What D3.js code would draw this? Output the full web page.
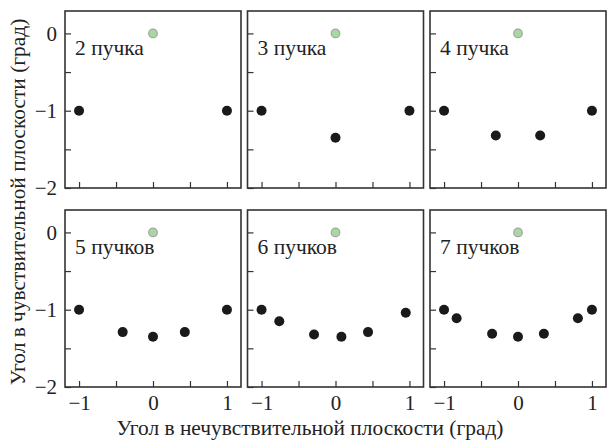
<!DOCTYPE html>
<html>
<head>
<meta charset="utf-8">
<script src="https://cdn.jsdelivr.net/npm/d3@7"></script>
<style>
  body { margin: 0; background: #fff; }
  svg { display: block; font-family: "Liberation Serif", "Times New Roman", serif; }
</style>
</head>
<body>
<svg id="chart" width="608" height="441"></svg>
<script>
// panel titles
const panelLabels = ["2 пучка", "3 пучка", "4 пучка", "5 пучков", "6 пучков", "7 пучков"];

// beam positions (insensitive / sensitive plane, deg)
const beamX = [
  [-1, 1],
  [-1, 0, 1],
  [-1, -0.3, 0.3, 1],
  [-1, -0.41, 0, 0.43, 1],
  [-1, -0.76, -0.29, 0.08, 0.44, 0.95],
  [-1, -0.83, -0.35, 0, 0.35, 0.81, 1]
];
const beamY = [
  [-1, -1],
  [-1, -1.35, -1],
  [-1, -1.32, -1.32, -1],
  [-1, -1.29, -1.35, -1.29, -1],
  [-1, -1.15, -1.32, -1.35, -1.29, -1.04],
  [-1, -1.11, -1.31, -1.35, -1.31, -1.11, -1]
];
// target point (green)
const refX = 0, refY = 0;

const xTicks = [-1, -0.5, 0, 0.5, 1];
const yTicks = [-2, -1.5, -1, -0.5, 0];

const xTitle = "Угол в нечувствительной плоскости (град)";
const yTitle = "Угол в чувствительной плоскости (град)";

var svg = d3.select("#chart");

var pw = 176, ph = 177,
  left0 = 65, top0 = 11,
  gapX = 6.5, gapY = 22;

var x = d3.scaleLinear().domain([-1.19, 1.19]).range([0, pw]);
var y = d3.scaleLinear().domain([-2, 0.29]).range([ph, 0]);

var fmt = function(d) {
  return Number.isInteger(d) ? d3.format("d")(d) : "";
};

panelLabels.forEach(function(label, i) {
  var col = i % 3, row = Math.floor(i / 3);
  var px = left0 + col * (pw + gapX),
    py = top0 + row * (ph + gapY);

  var g = svg.append("g").attr("transform", "translate(" + px + "," + py + ")");

  var yAxis = d3.axisLeft(y).tickValues(yTicks).tickSizeInner(-6).tickSizeOuter(0)
    .tickPadding(8).tickFormat(col == 0 ? fmt : "");
  var xAxis = d3.axisBottom(x).tickValues(xTicks).tickSizeInner(-6).tickSizeOuter(0)
    .tickPadding(8).tickFormat(row == 1 ? fmt : "");

  var ya = g.append("g").call(yAxis);
  var xa = g.append("g").attr("transform", "translate(0," + ph + ")").call(xAxis);

  [ya, xa].forEach(function(a) {
    a.select(".domain").remove();
    a.selectAll("line").attr("stroke", "#333").attr("stroke-width", 1.2);
    a.selectAll("text")
      .attr("fill", "#222")
      .style("font-family", '"Liberation Serif", "Times New Roman", serif')
      .style("font-size", "21px");
  });

  g.append("rect")
    .attr("width", pw)
    .attr("height", ph)
    .attr("fill", "none")
    .attr("stroke", "#333")
    .attr("stroke-width", 1.6);

  g.append("text")
    .attr("x", 10)
    .attr("y", y(0) + 21.5)
    .attr("fill", "#222")
    .style("font-size", "21.5px")
    .text(label);

  g.append("circle")
    .attr("cx", x(refX))
    .attr("cy", y(refY))
    .attr("r", 4.3)
    .attr("fill", "#a6d8a0")
    .attr("stroke", "#a5a5a5")
    .attr("stroke-width", 1.2);

  g.selectAll(".beam")
    .data(beamX[i].map(function(v, j) { return [v, beamY[i][j]]; }))
    .enter()
    .append("circle")
    .attr("class", "beam")
    .attr("cx", function(d) { return x(d[0]); })
    .attr("cy", function(d) { return y(d[1]); })
    .attr("r", 5)
    .attr("fill", "#1a1a1a");
});

svg.append("text")
  .attr("x", 310)
  .attr("y", 435)
  .attr("text-anchor", "middle")
  .attr("fill", "#222")
  .style("font-size", "21.4px")
  .text(xTitle);

svg.append("text")
  .attr("transform", "translate(25,202) rotate(-90)")
  .attr("text-anchor", "middle")
  .attr("fill", "#222")
  .style("font-size", "21.4px")
  .text(yTitle);
</script>
</body>
</html>
